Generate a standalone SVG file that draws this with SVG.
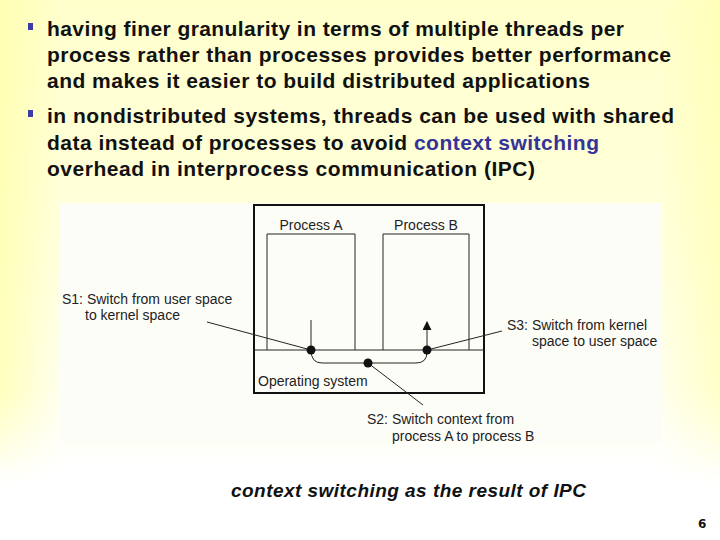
<svg xmlns="http://www.w3.org/2000/svg" width="720" height="540" viewBox="0 0 720 540">
<defs>
<linearGradient id="bgv" x1="0" y1="0" x2="0" y2="1">
<stop offset="0" stop-color="#ffffcc"/>
<stop offset="0.45" stop-color="#ffffdc"/>
<stop offset="0.75" stop-color="#fffff0"/>
<stop offset="0.87" stop-color="#ffffff"/>
</linearGradient>
<linearGradient id="bgl" x1="0" y1="0" x2="1" y2="0">
<stop offset="0" stop-color="#ffffa8" stop-opacity="0.7"/>
<stop offset="1" stop-color="#ffffa8" stop-opacity="0"/>
</linearGradient>
<linearGradient id="bgr" x1="1" y1="0" x2="0" y2="0">
<stop offset="0" stop-color="#ffffa8" stop-opacity="0.55"/>
<stop offset="1" stop-color="#ffffa8" stop-opacity="0"/>
</linearGradient>
<linearGradient id="vfade" gradientUnits="userSpaceOnUse" x1="0" y1="0" x2="0" y2="540">
<stop offset="0" stop-color="#fff"/>
<stop offset="0.72" stop-color="#fff"/>
<stop offset="0.9" stop-color="#000"/>
</linearGradient>
<mask id="sidemask" maskUnits="userSpaceOnUse" x="0" y="0" width="720" height="540">
<rect width="720" height="540" fill="url(#vfade)"/>
</mask>
<marker id="arr" viewBox="0 0 10 10" refX="9" refY="5" markerWidth="9" markerHeight="9" markerUnits="userSpaceOnUse" orient="auto">
<path d="M0,0 L10,5 L0,10 z" fill="#111"/>
</marker>
<style>
.b{font-family:"Liberation Sans",Arial,sans-serif;font-weight:bold;font-size:21px;fill:#111}
.blue{fill:#333399}
.bul{fill:#3b3ba8}
.lbl{font-family:"Liberation Sans",Arial,sans-serif;font-size:14px;fill:#222}
.ln{fill:none;stroke:#222;stroke-width:1}
.dot{fill:#111}
.cap{font-family:"Liberation Sans",Arial,sans-serif;font-weight:bold;font-style:italic;font-size:19px;fill:#111}
</style>
</defs>
<rect width="720" height="540" fill="#fff"/>
<rect width="720" height="540" fill="url(#bgv)"/>
<g mask="url(#sidemask)">
<rect x="0" y="0" width="60" height="540" fill="url(#bgl)"/>
<rect x="660" y="0" width="60" height="540" fill="url(#bgr)"/>
</g>
<g id="bullets">
<rect class="bul" x="28" y="23" width="5" height="7"/>
<text class="b" x="47" y="36" textLength="577" lengthAdjust="spacing">having finer granularity in terms of multiple threads per</text>
<text class="b" x="47" y="62" textLength="624" lengthAdjust="spacing">process rather than processes provides better performance</text>
<text class="b" x="47" y="88" textLength="543" lengthAdjust="spacing">and makes it easier to build distributed applications</text>
<rect class="bul" x="28" y="110" width="5" height="7"/>
<text class="b" x="47" y="123" textLength="627" lengthAdjust="spacing">in nondistributed systems, threads can be used with shared</text>
<text class="b" x="47" y="150" textLength="552" lengthAdjust="spacing">data instead of processes to avoid <tspan class="blue">context switching</tspan></text>
<text class="b" x="47" y="176" textLength="488" lengthAdjust="spacing">overhead in interprocess communication (IPC)</text>
</g>
<rect id="figure-bg" x="60" y="203" width="602" height="239" fill="#fdfdf8"/>
<g id="os-box">
<rect x="254" y="205" width="230" height="188" fill="none" stroke="#111" stroke-width="2"/>
<line class="ln" x1="254" y1="350" x2="484" y2="350"/>
<text class="lbl" x="258" y="386">Operating system</text>
</g>
<g id="process-a">
<path class="ln" d="M267,350 V234 H355 V350"/>
<text class="lbl" x="311" y="230" text-anchor="middle">Process A</text>
</g>
<g id="process-b">
<path class="ln" d="M383,350 V234 H469 V350"/>
<text class="lbl" x="426" y="230" text-anchor="middle">Process B</text>
</g>
<g id="connectors">
<line class="ln" x1="311" y1="350" x2="311" y2="320"/>
<path class="ln" d="M311,350 Q311,363 322,363 L416,363 Q427,363 427,352 L427,322" marker-end="url(#arr)"/>
<line class="ln" x1="207" y1="322" x2="311" y2="350"/>
<line class="ln" x1="427" y1="350" x2="502" y2="331"/>
<line class="ln" x1="368" y1="363" x2="423" y2="405"/>
<circle class="dot" cx="311" cy="350" r="4.5"/>
<circle class="dot" cx="368" cy="363" r="4.5"/>
<circle class="dot" cx="427" cy="350" r="4.5"/>
</g>
<g id="s1">
<text class="lbl" x="62" y="304">S1: Switch from user space</text>
<text class="lbl" x="85" y="320">to kernel space</text>
</g>
<g id="s2">
<text class="lbl" x="367" y="424">S2: Switch context from</text>
<text class="lbl" x="392" y="441">process A to process B</text>
</g>
<g id="s3">
<text class="lbl" x="507" y="330">S3: Switch from kernel</text>
<text class="lbl" x="532" y="346">space to user space</text>
</g>
<text class="cap" x="231" y="497" textLength="355" lengthAdjust="spacing">context switching as the result of IPC</text>
<text x="698" y="528" font-family="DejaVu Sans, sans-serif" font-weight="bold" font-size="12" fill="#111">6</text>
</svg>
